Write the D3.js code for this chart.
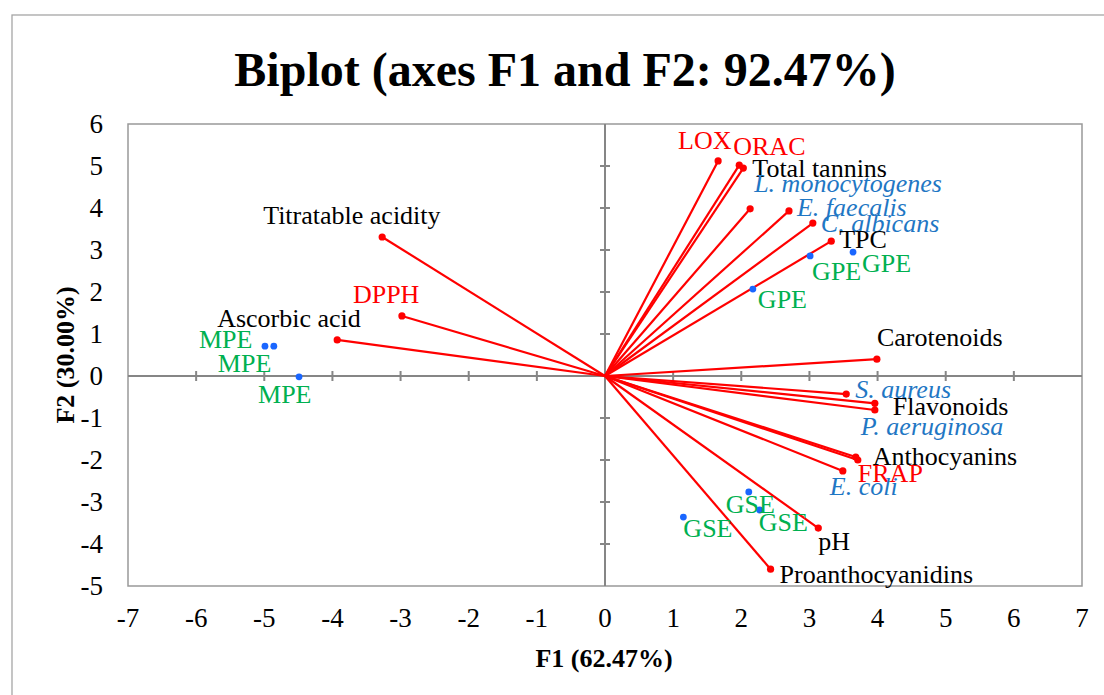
<!DOCTYPE html>
<html>
<head>
<meta charset="utf-8">
<script src="https://cdn.jsdelivr.net/npm/d3@7"></script>
<style>
  body { margin: 0; background: #fff; }
  svg { display: block; font-family: "Liberation Serif", "Times New Roman", serif; }
</style>
</head>
<body>
<svg id="svg" width="1104" height="695"></svg>
<script>
// Variables (loadings, drawn as vectors)
const varNames = ['LOX', 'ORAC', 'Total tannins', 'L. monocytogenes', 'E. faecalis', 'C. albicans', 'TPC',
  'Carotenoids', 'S. aureus', 'Flavonoids', 'P. aeruginosa', 'Anthocyanins', 'FRAP', 'E. coli', 'pH',
  'Proanthocyanidins', 'Titratable acidity', 'DPPH', 'Ascorbic acid'];
const varF1 = [1.66, 1.97, 2.03, 2.13, 2.70, 3.05, 3.32, 3.99, 3.54, 3.96, 3.96, 3.68, 3.71, 3.49, 3.13, 2.43, -3.27, -2.98, -3.93];
const varF2 = [5.12, 5.02, 4.95, 3.98, 3.93, 3.64, 3.21, 0.40, -0.43, -0.65, -0.81, -1.93, -2.00, -2.26, -3.62, -4.60, 3.31, 1.43, 0.86];
const varKind = ['assay', 'assay', 'compound', 'microbe', 'microbe', 'microbe', 'compound', 'compound', 'microbe',
  'compound', 'microbe', 'compound', 'assay', 'microbe', 'compound', 'compound', 'compound', 'assay', 'compound'];

// Observations (scores)
const obsNames = ['GPE', 'GPE', 'GPE', 'GSE', 'GSE', 'GSE', 'MPE', 'MPE', 'MPE'];
const obsF1 = [3.01, 3.64, 2.17, 2.11, 2.27, 1.15, -4.99, -4.86, -4.49];
const obsF2 = [2.86, 2.95, 2.07, -2.76, -3.19, -3.36, 0.71, 0.71, -0.02];

const xTicks = d3.range(-7, 8);
const yTicks = d3.range(-5, 7);

// label nudges in px (layout only)
const varLabelOffset = [[-40, -12], [-6, -10], [9, 9], [4, -17], [8, 5], [8, 9], [8, 7], [0, -13], [9, 4],
  [18, 12], [-14, 25], [17, 8], [0, 22], [-13, 24], [0, 22], [9, 14], [-119, -13], [-49, -13], [-120, -13]];
const obsLabelOffset = [[2, 24], [9, 20], [5, 19], [-23, 21], [-1, 21], [0, 20], [-66, 2], [-56, 26], [-41, 26]];

const kindColor = { assay: '#ff0000', compound: '#000000', microbe: '#1f77c4' };

const svg = d3.select('#svg');
const plot = { left: 128, right: 1082, top: 124, bottom: 586 };

const x = d3.scaleLinear().domain([-7, 7]).range([plot.left, plot.right]);
const y = d3.scaleLinear().domain([-5, 6]).range([plot.bottom, plot.top]);

// outer chart border
svg.append('rect')
  .attr('x', 12).attr('y', 15).attr('width', 1110).attr('height', 700)
  .attr('fill', 'none').attr('stroke', '#a6a6a6').attr('stroke-width', 1.3);

// title
svg.append('text')
  .attr('x', 565).attr('y', 86)
  .attr('text-anchor', 'middle')
  .attr('font-size', 48).attr('font-weight', 'bold')
  .text('Biplot (axes F1 and F2: 92.47%)');

// plot frame
svg.append('rect')
  .attr('x', plot.left).attr('y', plot.top)
  .attr('width', plot.right - plot.left).attr('height', plot.bottom - plot.top)
  .attr('fill', 'none').attr('stroke', '#999').attr('stroke-width', 1.5);

// zero axes with cross ticks
const gAxes = svg.append('g').attr('stroke', '#868686').attr('stroke-width', 2);
gAxes.append('line').attr('x1', plot.left).attr('x2', plot.right).attr('y1', y(0)).attr('y2', y(0));
gAxes.append('line').attr('x1', x(0)).attr('x2', x(0)).attr('y1', plot.top).attr('y2', plot.bottom);
gAxes.selectAll('line.xt').data(xTicks.filter((d) => d > -7 && d < 7)).enter().append('line')
  .attr('class', 'xt')
  .attr('x1', (d) => x(d)).attr('x2', (d) => x(d))
  .attr('y1', y(0) - 5).attr('y2', y(0) + 5);
gAxes.selectAll('line.yt').data(yTicks.filter((d) => d > -5 && d < 6)).enter().append('line')
  .attr('class', 'yt')
  .attr('x1', x(0) - 5).attr('x2', x(0) + 5)
  .attr('y1', (d) => y(d)).attr('y2', (d) => y(d));

// tick labels
svg.append('g').selectAll('text').data(xTicks).enter().append('text')
  .attr('x', (d) => x(d)).attr('y', 627)
  .attr('text-anchor', 'middle').attr('font-size', 27)
  .text((d) => d);
svg.append('g').selectAll('text').data(yTicks).enter().append('text')
  .attr('x', 103).attr('y', (d) => y(d) + 9)
  .attr('text-anchor', 'end').attr('font-size', 27)
  .text((d) => d);

// axis titles
svg.append('text')
  .attr('x', 604).attr('y', 667)
  .attr('text-anchor', 'middle').attr('font-size', 26).attr('font-weight', 'bold')
  .text('F1 (62.47%)');
svg.append('text')
  .attr('transform', `translate(74,${355}) rotate(-90)`)
  .attr('text-anchor', 'middle').attr('font-size', 26).attr('font-weight', 'bold')
  .text('F2 (30.00%)');

// vectors
const vars = varNames.map((name, i) => ({ name, f1: varF1[i], f2: varF2[i], kind: varKind[i], off: varLabelOffset[i] }));
const obs = obsNames.map((name, i) => ({ name, f1: obsF1[i], f2: obsF2[i], off: obsLabelOffset[i] }));

const gVec = svg.append('g');
gVec.selectAll('line').data(vars).enter().append('line')
  .attr('x1', x(0)).attr('y1', y(0))
  .attr('x2', (d) => x(d.f1)).attr('y2', (d) => y(d.f2))
  .attr('stroke', '#ff0000').attr('stroke-width', 2.2);
gVec.selectAll('circle').data(vars).enter().append('circle')
  .attr('cx', (d) => x(d.f1)).attr('cy', (d) => y(d.f2)).attr('r', 3.6)
  .attr('fill', '#ff0000');

// observation points
svg.append('g').selectAll('circle').data(obs).enter().append('circle')
  .attr('cx', (d) => x(d.f1)).attr('cy', (d) => y(d.f2)).attr('r', 3.4)
  .attr('fill', '#1a66ff');

// labels
svg.append('g').selectAll('text').data(vars).enter().append('text')
  .attr('x', (d) => x(d.f1) + d.off[0]).attr('y', (d) => y(d.f2) + d.off[1])
  .attr('font-size', 26)
  .attr('font-style', (d) => (d.kind === 'microbe' ? 'italic' : 'normal'))
  .attr('fill', (d) => kindColor[d.kind])
  .text((d) => d.name);
svg.append('g').selectAll('text').data(obs).enter().append('text')
  .attr('x', (d) => x(d.f1) + d.off[0]).attr('y', (d) => y(d.f2) + d.off[1])
  .attr('font-size', 26).attr('fill', '#00b050')
  .text((d) => d.name);
</script>
</body>
</html>
